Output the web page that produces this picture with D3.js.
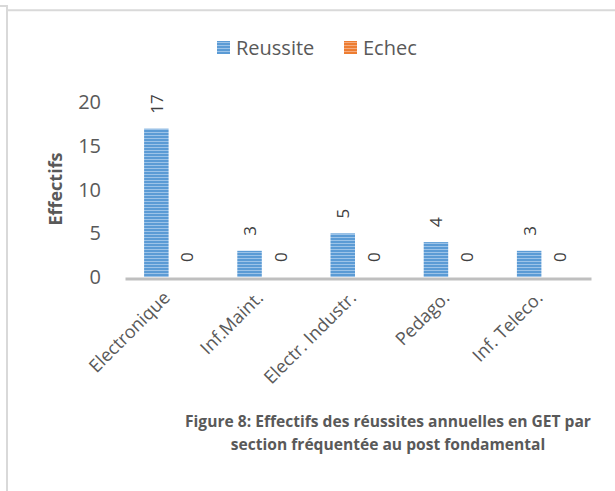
<!DOCTYPE html>
<html>
<head>
<meta charset="utf-8">
<script src="https://cdn.jsdelivr.net/npm/d3@7"></script>
<style>
  body { margin: 0; background: #fff; }
  svg { display: block; font-family: "Open Sans", sans-serif; }
</style>
</head>
<body>
<svg id="chart" width="615" height="491"></svg>
<script>
// Chart data
const sections = ['Electronique', 'Inf.Maint.', 'Electr. Industr.', 'Pedago.', 'Inf. Teleco.'];
const series = ['Reussite', 'Echec'];
const reussite = [17, 3, 5, 4, 3];
const echec = [0, 0, 0, 0, 0];
const yTicks = [0, 5, 10, 15, 20];
const captionLines = [
    'Figure 8: Effectifs des réussites annuelles en GET par',
    'section fréquentée au post fondamental'
];

const textColor = '#595959';
const seriesColors = {Reussite: ['#5b9bd5', '#9cc3e8'], Echec: ['#ed7d31', '#f5ab7f']};

const svg = d3.select('#chart');

// striped fills, like the Office "horizontal" pattern
const defs = svg.append('defs');
series.forEach(s => {
    let p = defs.append('pattern')
        .attr('id', 'pat-' + s)
        .attr('patternUnits', 'userSpaceOnUse')
        .attr('width', 4).attr('height', 3);
    p.append('rect').attr('width', 4).attr('height', 3).attr('fill', seriesColors[s][0]);
    p.append('rect').attr('width', 4).attr('height', 1).attr('fill', seriesColors[s][1]);
});

// frame lines
svg.append('path')
    .attr('d', 'M0,6 H7 V491')
    .attr('fill', 'none').attr('stroke', '#d9d9d9').attr('stroke-width', 2);
svg.append('path')
    .attr('d', 'M8,10.3 H615')
    .attr('fill', 'none').attr('stroke', '#d9d9d9').attr('stroke-width', 2);

// scales
let x = d3.scaleBand()
    .domain(sections)
    .range([125, 591]);

let x1 = d3.scaleBand()
    .domain(series)
    .range([0, x.bandwidth()])
    .paddingInner(0.197)
    .paddingOuter(0.626);

let y = d3.scaleLinear()
    .domain([0, 20])
    .range([277, 102.5]);

// y tick labels (no axis line, no gridlines)
let yAxis = d3.axisLeft(y).tickValues(yTicks).tickSize(0).tickPadding(0);
let yg = svg.append('g')
    .attr('transform', 'translate(101,0)')
    .call(yAxis);
yg.select('.domain').remove();
yg.selectAll('text')
    .attr('fill', textColor)
    .style('font-size', '20px')
    .style('font-family', '"Open Sans", sans-serif');

// y axis title
svg.append('text')
    .attr('transform', 'translate(55,189) rotate(-90)')
    .attr('text-anchor', 'middle')
    .attr('dominant-baseline', 'central')
    .attr('fill', textColor)
    .style('font-size', '18px')
    .style('font-weight', 'bold')
    .text('Effectifs');

// bars
let rows = sections.map((s, i) => ({section: s, Reussite: reussite[i], Echec: echec[i]}));

let groups = svg.append('g').selectAll('g')
    .data(rows)
    .enter().append('g')
    .attr('transform', d => 'translate(' + x(d.section) + ',0)');

groups.selectAll('rect')
    .data(d => series.map(k => ({key: k, value: d[k]})))
    .enter().append('rect')
    .attr('x', d => x1(d.key))
    .attr('y', d => y(d.value))
    .attr('width', x1.bandwidth())
    .attr('height', d => y(0) - y(d.value))
    .attr('fill', d => 'url(#pat-' + d.key + ')');

// data labels, rotated
groups.selectAll('text')
    .data(d => series.map(k => ({key: k, value: d[k]})))
    .enter().append('text')
    .attr('transform', d => 'translate(' + (x1(d.key) + x1.bandwidth() / 2) + ',' + (y(d.value) - 15) + ') rotate(-90)')
    .attr('text-anchor', 'start')
    .attr('dominant-baseline', 'central')
    .attr('fill', '#404040')
    .style('font-size', '17px')
    .text(d => d.value);

// x axis line
let xAxis = d3.axisBottom(x).tickSize(0).tickPadding(0);
let xg = svg.append('g')
    .attr('transform', 'translate(0,278.5)')
    .call(xAxis);
xg.select('.domain')
    .attr('stroke', '#bfbfbf')
    .attr('stroke-width', 3);
xg.selectAll('text')
    .attr('fill', textColor)
    .style('font-size', '18px')
    .style('font-family', '"Open Sans", sans-serif')
    .attr('text-anchor', 'end')
    .attr('y', 0)
    .attr('dy', '0.35em')
    .attr('transform', 'translate(-5,16) rotate(-45)');

// legend
let legend = svg.append('g');
let legendX = {Reussite: 217, Echec: 344};
series.forEach(s => {
    legend.append('rect')
        .attr('x', legendX[s]).attr('y', 41)
        .attr('width', 13).attr('height', 13)
        .attr('fill', 'url(#pat-' + s + ')');
    legend.append('text')
        .attr('x', legendX[s] + 19)
        .attr('y', 47.5)
        .attr('dominant-baseline', 'central')
        .attr('fill', textColor)
        .style('font-size', '20px')
        .text(s);
});

// caption
svg.append('g').selectAll('text')
    .data(captionLines)
    .enter().append('text')
    .attr('x', 388)
    .attr('y', (d, i) => 427 + i * 23)
    .attr('text-anchor', 'middle')
    .attr('fill', textColor)
    .style('font-size', '15.6px')
    .style('font-weight', 'bold')
    .text(d => d);
</script>
</body>
</html>
